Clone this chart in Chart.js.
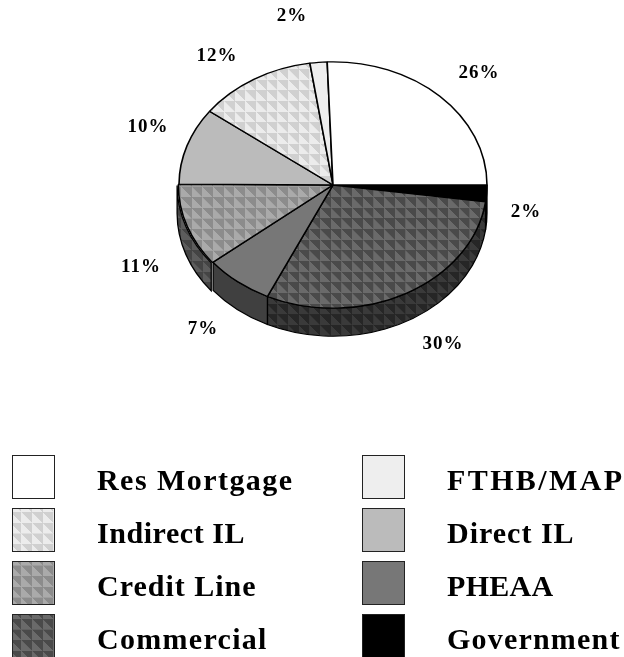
<!DOCTYPE html>
<html>
<head>
<meta charset="utf-8">
<style>
    html, body { margin: 0; background: #fff; }
    canvas { display: block; }
</style>
<script src="https://cdn.jsdelivr.net/npm/chart.js@4"></script>
</head>
<body>
<canvas id="chart" width="624" height="657"></canvas>
<script>
// values, in legend order (counter-clockwise from 3 o'clock)
const categories = ['Res Mortgage', 'FTHB/MAP', 'Indirect IL', 'Direct IL', 'Credit Line', 'PHEAA', 'Commercial', 'Government'];
const shares = [25.6, 1.8, 12.4, 10.1, 10.9, 7.2, 29.8, 2.2];

// [light, dark] means a pyramid texture, a single colour a flat fill
const topColors = ['#ffffff', '#eeeeee', ['#ececec', '#d0d0d0'], '#bbbbbb', ['#aaaaaa', '#8c8c8c'], '#777777', ['#6a6a6a', '#4a4a4a'], '#000000'];
const wallColors = ['#ffffff', '#eeeeee', '#d0d0d0', '#bbbbbb', ['#5c5c5c', '#444444'], '#404040', ['#3a3a3a', '#262626'], '#000000'];
const sliceOffsets = [0, 0, 0, 0, 2, 0, 0, 0];
const labelSpots = [[479, 73], [292, 16], [217, 56], [148, 127], [141, 267], [203, 329], [443, 344], [526, 212]];
const legendTracking = [1.45, 2.4, 0.55, 1, 1, 0.3, 1.3, 1.2];

const CX = 333, CY = 185, RX = 154, TILT = 0.8, DEPTH = 28, TILE = 10.67;
const LEGEND_COLS = [12, 362], LEGEND_ROWS = [455, 508, 561, 614];

function texture(ctx, light, dark, yScale) {
    const n = 64;
    const c = document.createElement('canvas');
    c.width = c.height = n;
    const t = c.getContext('2d');
    t.fillStyle = dark;
    t.fillRect(0, 0, n, n);
    t.fillStyle = light;
    t.beginPath();
    t.moveTo(0, 0);
    t.lineTo(n, n);
    t.lineTo(0, n);
    t.closePath();
    t.fill();
    const p = ctx.createPattern(c, 'repeat');
    p.setTransform(new DOMMatrix().scale(TILE / n, TILE / n / yScale));
    return p;
}

const ctx = document.getElementById('chart').getContext('2d');
const fill = (color, yScale) => Array.isArray(color) ? texture(ctx, color[0], color[1], yScale) : color;

// Chart.js only goes clockwise, so the slices are handed over reversed
const order = categories.map((_, i) => categories.length - 1 - i);

const tiltedPie = {
    id: 'tiltedPie',
    beforeDatasetsDraw(chart) {
        const c = chart.ctx;
        c.save();
        c.translate(CX, CY);
        c.scale(1, TILT);
        c.translate(-CX, -CY);
        chart.getDatasetMeta(0).data.forEach((arc, i) => {
            const { x, y, startAngle, endAngle, outerRadius } = arc.getProps(['x', 'y', 'startAngle', 'endAngle', 'outerRadius']);
            const a0 = Math.max(startAngle, 0), a1 = Math.min(endAngle, Math.PI);
            if (a1 <= a0) return;
            const mid = (startAngle + endAngle) / 2, off = sliceOffsets[order[i]];
            const ox = x + Math.cos(mid) * off, oy = y + Math.sin(mid) * off;
            c.beginPath();
            c.arc(ox, oy, outerRadius, a0, a1);
            c.arc(ox, oy + DEPTH / TILT, outerRadius, a1, a0, true);
            c.closePath();
            c.fillStyle = fill(wallColors[order[i]], TILT);
            c.fill();
            c.lineWidth = 1.3;
            c.strokeStyle = '#000';
            c.stroke();
        });
    },
    afterDatasetsDraw(chart) {
        chart.ctx.restore();
    },
};

const textLayer = {
    id: 'textLayer',
    afterDraw(chart) {
        const c = chart.ctx;
        c.save();
        c.fillStyle = '#000';

        // percentages
        c.font = 'bold 19px "Liberation Serif"';
        c.letterSpacing = '1px';
        c.textAlign = 'center';
        c.textBaseline = 'middle';
        shares.forEach((v, i) => {
            c.fillText(Math.round(v) + '%', labelSpots[i][0], labelSpots[i][1]);
        });

        // two column legend
        c.font = 'bold 30px "Liberation Serif"';
        c.textAlign = 'left';
        c.textBaseline = 'alphabetic';
        categories.forEach((name, i) => {
            const x = LEGEND_COLS[i % 2], y = LEGEND_ROWS[Math.floor(i / 2)];
            c.fillStyle = fill(topColors[i], 1);
            c.fillRect(x, y, 42, 43);
            c.strokeStyle = '#222';
            c.lineWidth = 1;
            c.strokeRect(x + 0.5, y + 0.5, 42, 43);
            c.fillStyle = '#000';
            c.letterSpacing = legendTracking[i] + 'px';
            c.fillText(name, x + 85, y + 35);
        });
        c.restore();
    },
};

new Chart(ctx, {
    type: 'pie',
    data: {
        labels: order.map(i => categories[i]),
        datasets: [{
            data: order.map(i => shares[i]),
            backgroundColor: order.map(i => fill(topColors[i], TILT)),
            offset: order.map(i => sliceOffsets[i]),
            borderColor: '#000',
            borderWidth: 1.6,
            clip: false,
        }],
    },
    options: {
        responsive: false,
        animation: false,
        rotation: 90,
        radius: RX,
        layout: { padding: { left: CX - RX, right: 624 - CX - RX, top: CY - RX, bottom: 657 - CY - RX } },
        plugins: { legend: { display: false }, tooltip: { enabled: false } },
        events: [],
    },
    plugins: [tiltedPie, textLayer],
});
</script>
</body>
</html>
